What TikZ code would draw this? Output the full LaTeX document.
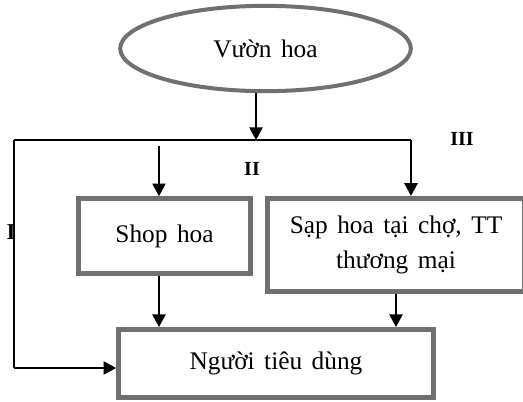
\documentclass[tikz,border=0pt]{standalone}
\usepackage{fontspec}
\setmainfont[WordSpace=1.5]{Liberation Serif}
\usetikzlibrary{arrows.meta,shapes.geometric}

\definecolor{boxgray}{RGB}{112,112,112}
\tikzset{every picture/.style={line width=0.75pt}}
\tikzset{
  flowbox/.style={draw=boxgray,line width=3.75pt,rectangle,inner sep=0pt,align=center,font=\fontsize{19}{26}\selectfont},
  flowarrow/.style={draw=black,line width=1.1pt,-{Triangle[length=9.5pt,width=10pt]}},
  flowline/.style={draw=black,line width=1.1pt},
  routelabel/.style={inner sep=0pt,font=\bfseries\fontsize{15}{15}\selectfont}
}

\begin{document}
\begin{tikzpicture}[x=0.75pt,y=0.75pt,yscale=-1,xscale=1]
\useasboundingbox (0,0) rectangle (523,401);
\clip (0,0) rectangle (523,401);

%Flowchart: Connector [id:vuon]
\node (vuon) at (265.5,48.5) [ellipse,draw=boxgray,line width=3pt,minimum width=218pt,minimum height=64pt,inner sep=0pt,font=\fontsize{19}{26}\selectfont] {Vườn hoa};
%Flowchart: Process [id:shop]
\node (shop) at (164.5,236) [flowbox,minimum width=129pt,minimum height=56pt] {Shop hoa};
%Flowchart: Process [id:sap]
\node (sap) at (396,245) [flowbox,minimum width=193pt,minimum height=70pt] {Sạp hoa tại chợ, TT\\thương mại};
%Flowchart: Process [id:nguoi]
\node (nguoi) at (276,363.5) [flowbox,minimum width=236pt,minimum height=51pt] {Người tiêu dùng};

% branch points
\coordinate (tach) at (256,140);
\coordinate (tachL) at (14,140);
\coordinate (tachR) at (411,140);
\coordinate (goc) at (14,368);
\coordinate (shopIn) at (159,146);

%Straight Lines
\draw [flowarrow] (vuon.south -| tach) -- (tach);
\draw [flowline] (tachL) -- (tachR);
\draw [flowarrow] (tachR) -- (tachR |- sap.north);
\draw [flowarrow] (shopIn) -- (shopIn |- shop.north);
\draw [flowline] (tachL) -- (goc);
\draw [flowarrow] (goc) -- (goc -| nguoi.west);
\draw [flowarrow] (shopIn |- shop.south) -- (shopIn |- nguoi.north);
\draw [flowarrow] (sap.south) -- (sap.south |- nguoi.north);

% Text Node
\node (kenhI) at (11,232) [routelabel,font=\bfseries\fontsize{17}{17}\selectfont] {I};
% Text Node
\node (kenhII) at (252,169) [routelabel] {II};
% Text Node
\node (kenhIII) at (462,139) [routelabel] {III};

\end{tikzpicture}
\end{document}
